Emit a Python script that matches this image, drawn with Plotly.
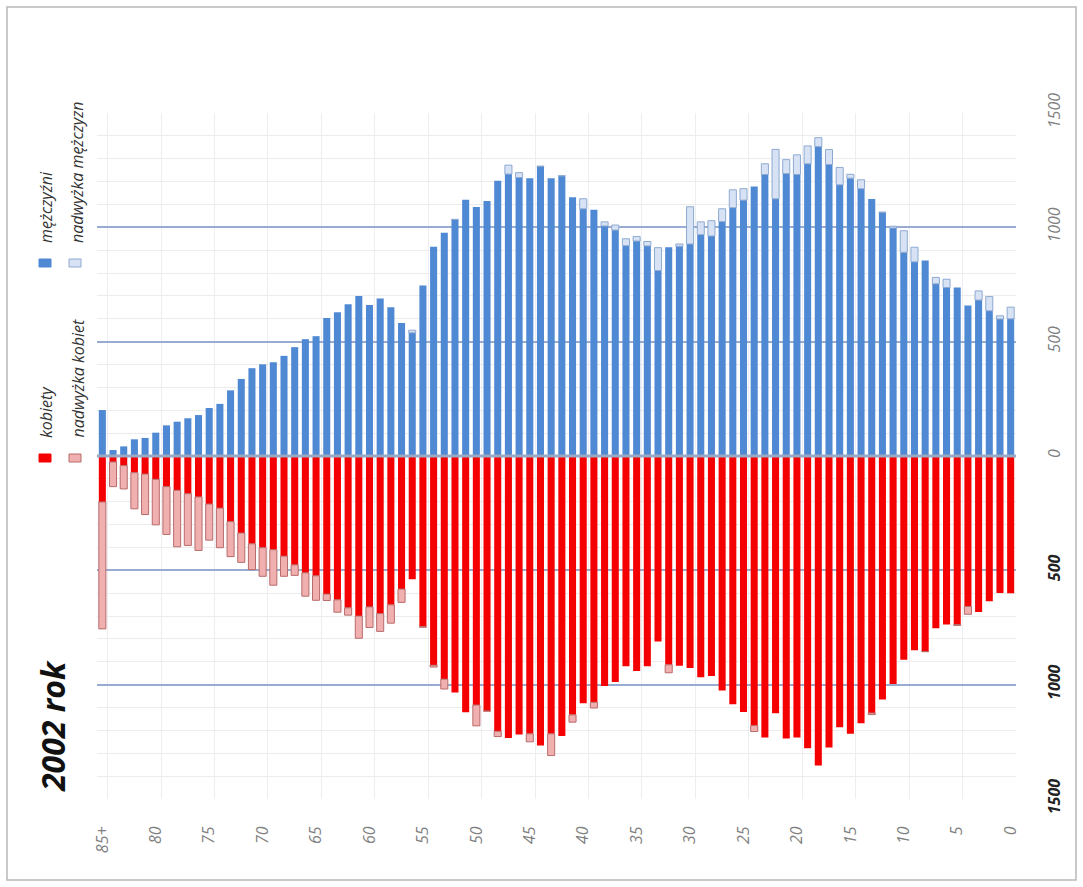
import plotly.graph_objects as go

# ages: index 0 = "85+", then 84 ... 0
age_labels = ["85+"] + [str(a) for a in range(84, -1, -1)]
age_pos = [85] + list(range(84, -1, -1))

men = [201, 26, 42, 73, 79, 102, 134, 150, 165, 179,
       210, 228, 287, 337, 384, 401, 410, 438, 476, 511,
       524, 604, 629, 664, 700, 660, 689, 651, 582, 550,
       746, 915, 976, 1035, 1121, 1089, 1115, 1204, 1272, 1239,
       1215, 1268, 1215, 1226, 1132, 1125, 1077, 1024, 1010, 950,
       960, 938, 911, 913, 927, 1090, 1024, 1029, 1081, 1164,
       1169, 1179, 1278, 1341, 1296, 1317, 1356, 1392, 1340, 1262,
       1232, 1208, 1124, 1067, 1005, 985, 913, 855, 781, 773,
       737, 658, 722, 697, 613, 651]

women = [756, 134, 144, 231, 256, 301, 343, 397, 391, 413,
         368, 401, 440, 465, 497, 526, 565, 526, 522, 613,
         631, 632, 683, 696, 797, 750, 767, 731, 640, 539,
         749, 923, 1019, 1034, 1121, 1180, 1116, 1227, 1233, 1218,
         1250, 1266, 1310, 1225, 1164, 1081, 1102, 1006, 988, 920,
         940, 919, 811, 948, 917, 927, 968, 962, 1025, 1086,
         1119, 1205, 1231, 1125, 1235, 1231, 1278, 1353, 1275, 1186,
         1215, 1169, 1131, 1065, 997, 891, 849, 856, 753, 737,
         741, 692, 682, 635, 599, 600]

x_tick_vals = [85, 80, 75, 70, 65, 60, 55, 50, 45, 40, 35, 30, 25, 20, 15, 10, 5, 0]
x_tick_text = ["85+", "80", "75", "70", "65", "60", "55", "50", "45", "40",
               "35", "30", "25", "20", "15", "10", "5", "0"]
y_tick_vals = [-1500, -1000, -500, 0, 500, 1000, 1500]

common = [min(m, w) for m, w in zip(men, women)]
men_surplus = [(m - w) if m > w else None for m, w in zip(men, women)]
women_surplus = [-(w - m) if w > m else None for m, w in zip(men, women)]

BLUE = "#4f88d3"
LBLUE = "#d7e3f5"
RED = "#f50000"
PINK = "#f1b0b0"

fig = go.Figure()
fig.add_trace(go.Bar(x=age_pos, y=common, marker=dict(color=BLUE, line=dict(width=0)),
                     name="mężczyźni"))
fig.add_trace(go.Bar(x=age_pos, y=men_surplus,
                     marker=dict(color=LBLUE, line=dict(color="#8ea9d0", width=1)),
                     name="nadwyżka mężczyzn"))
fig.add_trace(go.Bar(x=age_pos, y=[-c for c in common], marker=dict(color=RED, line=dict(width=0)),
                     name="kobiety"))
fig.add_trace(go.Bar(x=age_pos, y=women_surplus,
                     marker=dict(color=PINK, line=dict(color="#b86a6a", width=1)),
                     name="nadwyżka kobiet"))

W, H = 1083, 887
L, R, T, B = 97, 1016, 113, 799


def px(xp):
    return (xp - L) / (R - L)


def py(yp):
    return (B - yp) / (B - T)


y_text = []
for v in y_tick_vals:
    if v < 0:
        y_text.append("<b><span style='color:#222'>%d</span></b>" % abs(v))
    else:
        y_text.append(str(v))

fig.update_layout(
    width=W, height=H,
    margin=dict(l=L, r=W - R, t=T, b=H - B),
    barmode="relative",
    bargap=0.34,
    showlegend=False,
    plot_bgcolor="white",
    paper_bgcolor="white",
    font=dict(family="Open Sans, Liberation Sans, sans-serif"),
    xaxis=dict(
        range=[85.5, -0.5],
        tickmode="array", tickvals=x_tick_vals, ticktext=x_tick_text,
        tickangle=-90,
        tickfont=dict(size=16, color="#7f7f7f", style="italic"),
        showgrid=False, zeroline=False, showline=False,
        ticks="outside", ticklen=20, tickcolor="rgba(0,0,0,0)",
        minor=dict(tickvals=[84.5, 79.5, 74.5, 69.5, 64.5, 59.5, 54.5, 49.5, 44.5,
                             39.5, 34.5, 29.5, 24.5, 19.5, 14.5, 9.5, 4.5, -0.5],
                   showgrid=True, gridcolor="#eceef2", gridwidth=1, ticks=""),
    ),
    yaxis=dict(
        range=[-1500, 1500],
        side="right",
        tickmode="array", tickvals=y_tick_vals, ticktext=y_text,
        tickangle=-90,
        tickfont=dict(size=16, color="#7f7f7f", style="italic"),
        showgrid=True, gridcolor="#97acd0", gridwidth=1.5,
        zeroline=False, showline=False,
        ticks="outside", ticklen=24, tickcolor="rgba(0,0,0,0)",
        minor=dict(dtick=100, showgrid=True, gridcolor="#ececec", gridwidth=1, ticks=""),
    ),
)

shapes = []
# zero line above bars
shapes.append(dict(type="line", xref="paper", yref="y", x0=0, x1=1, y0=0, y1=0,
                   line=dict(color="#97a9c4", width=3), layer="above"))
# outer frame
shapes.append(dict(type="rect", xref="paper", yref="paper",
                   x0=px(7), x1=px(1076), y0=py(880), y1=py(7),
                   line=dict(color="#b8b8b8", width=1.5), layer="below"))
# legend swatches
for (cx, cy, fill, edge) in [(45, 458, RED, RED), (75, 458, PINK, "#b86a6a"),
                             (45, 263, BLUE, BLUE), (75, 263, LBLUE, "#8ea9d0")]:
    shapes.append(dict(type="rect", xref="paper", yref="paper",
                       x0=px(cx - 6), x1=px(cx + 6), y0=py(cy + 4), y1=py(cy - 4),
                       fillcolor=fill, line=dict(color=edge, width=1)))
fig.update_layout(shapes=shapes)

annotations = []
for (cx, cy, txt) in [(46, 440, "kobiety"), (77, 440, "nadwyżka kobiet"),
                      (46, 245, "mężczyźni"), (77, 245, "nadwyżka mężczyzn")]:
    annotations.append(dict(text=txt, xref="paper", yref="paper", x=px(cx), y=py(cy),
                            xanchor="center", yanchor="bottom", textangle=-90, showarrow=False,
                            font=dict(size=16, color="#333333", style="italic")))
annotations.append(dict(text="<b>2002 rok</b>", xref="paper", yref="paper",
                        x=px(52), y=py(726), xanchor="center", yanchor="middle",
                        textangle=-90, showarrow=False,
                        font=dict(size=32, color="#111111", style="italic")))
fig.update_layout(annotations=annotations)

fig.write_html("out.html", config={"displayModeBar": False},
               post_script="document.body.style.margin='0';")
